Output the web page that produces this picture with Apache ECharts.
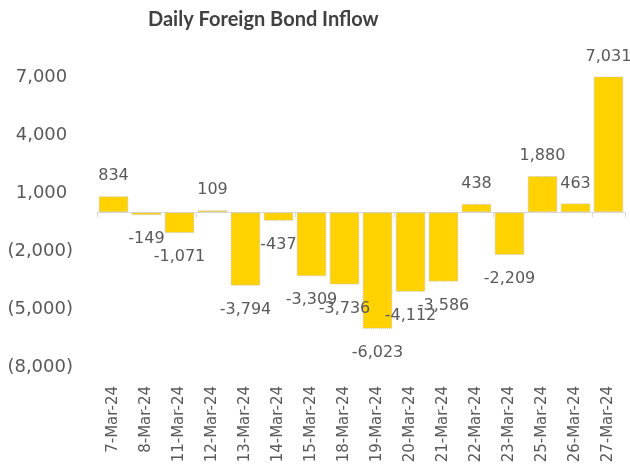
<!DOCTYPE html>
<html>
<head>
<meta charset="utf-8">
<style>
  html, body { margin: 0; padding: 0; background: #fff; }
  #chart { width: 630px; height: 474px; }
</style>
<script src="https://cdn.jsdelivr.net/npm/echarts@6/dist/echarts.min.js"></script>
</head>
<body>
<div id="chart"></div>
<script>
var categories = ['7-Mar-24', '8-Mar-24', '11-Mar-24', '12-Mar-24', '13-Mar-24', '14-Mar-24',
    '15-Mar-24', '18-Mar-24', '19-Mar-24', '20-Mar-24', '21-Mar-24', '22-Mar-24',
    '23-Mar-24', '25-Mar-24', '26-Mar-24', '27-Mar-24'];
var inflow = [834, -149, -1071, 109, -3794, -437, -3309, -3736, -6023, -4112, -3586, 438,
    -2209, 1880, 463, 7031];
var yTicks = { min: -8000, max: 7000, interval: 3000 };

var textColor = '#595959';
var font = 'DejaVu Sans';

function fmt(v) {
    return Math.abs(v).toLocaleString('en-US');
}

// negative bars get their label under the bar
var barData = inflow.map(function (v) {
    return {
        value: v,
        label: v < 0 ? { position: 'bottom', distance: 16 } : { position: 'top', distance: 12 }
    };
});

var chart = echarts.init(document.getElementById('chart'));

chart.setOption({
    backgroundColor: '#fff',
    title: {
        text: 'Daily Foreign Bond Inflow',
        left: 143,
        top: 5,
        textStyle: {
            fontFamily: 'Lato',
            fontWeight: 'bold',
            fontSize: 20,
            color: '#404040'
        }
    },
    grid: { left: 97, right: 5, top: 77, bottom: 107 },
    xAxis: [{
        type: 'category',
        data: categories,
        axisLine: { onZero: true, lineStyle: { color: '#d9d9d9', width: 1 } },
        axisTick: { show: true, length: 5, lineStyle: { color: '#d9d9d9' } },
        axisLabel: { show: false }
    }, {
        type: 'category',
        data: categories,
        position: 'bottom',
        axisLine: { show: false, onZero: false },
        axisTick: { show: false },
        axisLabel: {
            rotate: 90,
            margin: 19,
            fontFamily: font,
            fontSize: 15,
            color: textColor
        }
    }],
    yAxis: {
        type: 'value',
        min: yTicks.min,
        max: yTicks.max,
        interval: yTicks.interval,
        axisLine: { show: false },
        axisTick: { show: false },
        splitLine: { show: false },
        axisLabel: {
            margin: 24,
            fontFamily: font,
            fontSize: 18,
            color: textColor,
            formatter: function (v) {
                return v < 0 ? '(' + fmt(v) + ')' : fmt(v) + ' ';
            }
        }
    },
    series: [{
        type: 'bar',
        xAxisIndex: 0,
        data: barData,
        barCategoryGap: '10%',
        clip: false,
        itemStyle: {
            color: '#FFD200',
            borderColor: '#c8c8c8',
            borderWidth: 1,
            borderType: 'dotted'
        },
        label: {
            show: true,
            fontFamily: font,
            fontSize: 16,
            color: textColor,
            formatter: function (p) {
                return (p.value < 0 ? '-' : '') + fmt(p.value);
            }
        }
    }]
});
</script>
</body>
</html>
